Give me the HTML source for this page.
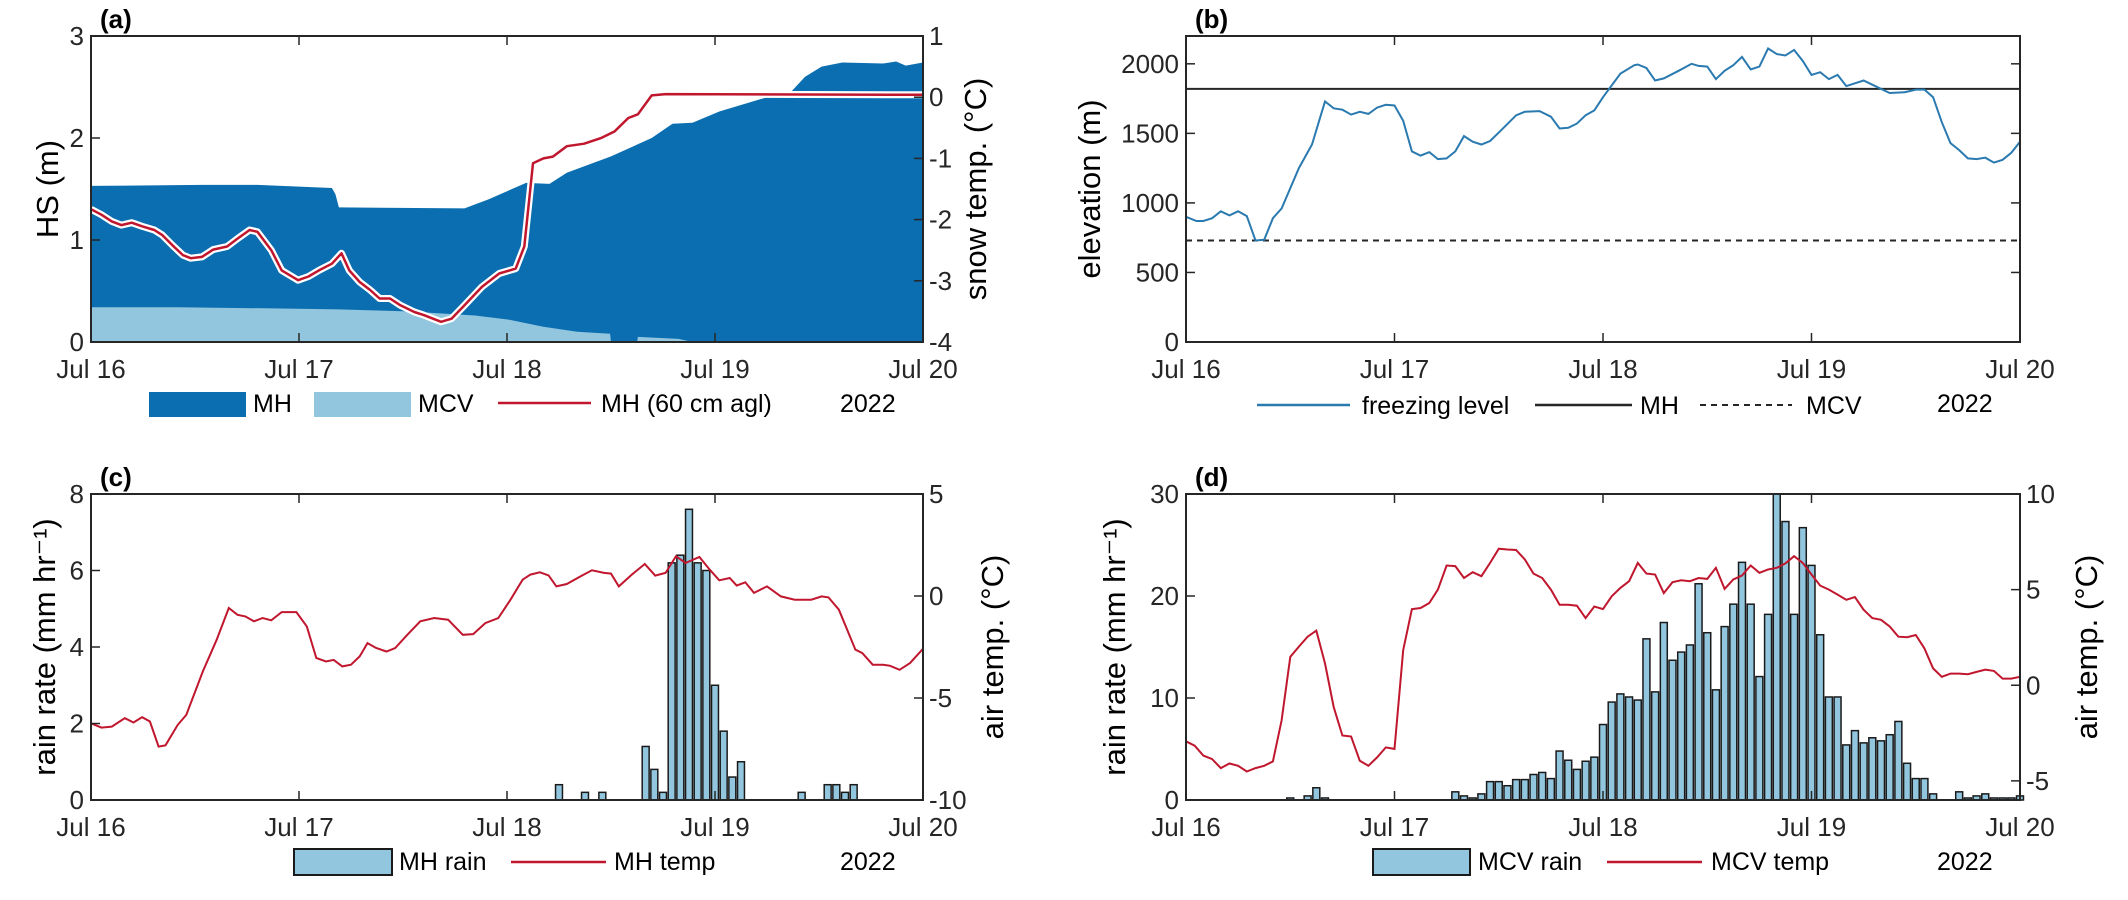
<!DOCTYPE html>
<html><head><meta charset="utf-8">
<style>
html,body{margin:0;padding:0;background:#fff;}
svg{display:block;font-family:"Liberation Sans",Arial,sans-serif;}
</style></head>
<body>
<svg id="fig" width="2128" height="900" viewBox="0 0 2128 900" xmlns="http://www.w3.org/2000/svg"></svg>
<script>
// ---------- DATA ----------
const xTickLabels = ['Jul 16','Jul 17','Jul 18','Jul 19','Jul 20'];
const xTickHours = [0,24,48,72,96];

// (a) snow depth and snow temperature
const mhHsHours = [0,12.9,19.2,27.8,28.2,28.6,43.1,45.9,50.2,52.9,54.9,60,64.7,67.1,69.4,72.5,78,80.4,82.4,84.3,86.7,91.4,92.9,94,96];
const mhHsValues = [1.53,1.54,1.54,1.51,1.45,1.32,1.31,1.4,1.56,1.55,1.66,1.82,2.0,2.14,2.15,2.26,2.4,2.42,2.6,2.7,2.74,2.73,2.75,2.71,2.74];
const mcvHsHours = [0,10,20,28.6,36.5,44.3,48.2,52.2,56.1,59.9,60,63,63.1,67.8,69.4,96];
const mcvHsValues = [0.34,0.34,0.33,0.32,0.30,0.26,0.22,0.15,0.10,0.08,0,0,0.05,0.03,0,0];
const snowTempHours = [0,1.2,2.4,3.5,4.7,5.9,7.3,8.2,9.4,10.6,11.5,12.8,14.1,15.7,16.9,18.3,19.2,20.8,22,23.9,25.1,26.3,27.8,28.9,29.8,31,32.2,33.3,34.5,35.7,37.3,38.4,40.4,41.6,43.1,45.1,47.1,49,50,51,52.2,53.3,54.9,56.9,58.8,60.4,62,63.1,64.7,66.3,96];
const snowTempValues = [-1.83,-1.92,-2.03,-2.09,-2.05,-2.11,-2.17,-2.25,-2.42,-2.58,-2.63,-2.61,-2.49,-2.44,-2.31,-2.17,-2.2,-2.5,-2.83,-2.99,-2.93,-2.83,-2.72,-2.55,-2.83,-3.02,-3.15,-3.29,-3.29,-3.4,-3.51,-3.56,-3.67,-3.62,-3.4,-3.1,-2.88,-2.8,-2.44,-1.08,-1.0,-0.97,-0.8,-0.76,-0.67,-0.56,-0.34,-0.28,0.03,0.05,0.04];

// (b) freezing level
const fzHours = [0,1.2,2,3,4,5,6,7,8,9,10,11,13,14.5,16,17,18,19,20,21,22,23,24,25,26,27,28,29,30,31,32,33,34,35,36.4,38,39,40.7,42,43,44,45,46,47,48,50,51.6,52,53,54,55,56.7,58.2,59,60,61,62,63,64,65,66,67,68,69,70,71,72,73,74,75,76,77,78,79,81,82.7,84,85,86,87,88,89,90,91,92,93,94,95,96];
const fzValues = [900,870,870,890,940,910,940,905,730,735,890,960,1250,1420,1730,1680,1670,1635,1655,1640,1685,1705,1700,1590,1370,1340,1365,1315,1320,1370,1480,1440,1420,1445,1530,1630,1655,1660,1620,1535,1540,1570,1630,1665,1760,1930,1990,1995,1970,1880,1895,1950,2000,1985,1980,1890,1950,1990,2050,1960,1980,2110,2070,2060,2100,2020,1920,1940,1890,1920,1840,1860,1880,1850,1790,1795,1815,1815,1760,1580,1430,1380,1320,1315,1325,1290,1310,1360,1440];
const mhElevation = 1820;
const mcvElevation = 730;

// (c) MH rain and temperature
const mhRainHours = [54,57,59,64,65,66,67,68,69,70,71,72,73,74,75,82,85,86,87,88];
const mhRainValues = [0.4,0.2,0.2,1.4,0.8,0.2,6.2,6.4,7.6,6.2,6.0,3.0,1.8,0.6,1.0,0.2,0.4,0.4,0.2,0.4];
const mhTempHours = [0,1.2,2.4,3.9,4.9,5.9,6.8,7.8,8.6,10,11,12.9,14.5,15.9,16.9,17.8,18.8,19.8,20.8,22,23.7,24.9,26,27.1,28,29,30,31,31.9,32.9,34.1,35.1,36.5,38,39.6,41.2,42.9,44.1,45.5,47,48.4,49.8,50.7,51.8,52.8,53.7,54.9,56.5,57.8,59.2,60,60.9,62.4,63.9,65.1,66.3,67.5,68.6,70.2,71.4,72.5,73.7,74.5,75.5,76.5,78,79.6,81.2,83.1,84.3,85.1,86.3,88.2,89,90.2,91.4,92.2,93.3,94.5,96];
const mhTempValues = [-6.24,-6.45,-6.4,-5.99,-6.2,-5.94,-6.15,-7.38,-7.32,-6.32,-5.83,-3.7,-2.14,-0.59,-0.92,-1.0,-1.24,-1.08,-1.19,-0.79,-0.79,-1.49,-3.04,-3.21,-3.13,-3.45,-3.37,-2.96,-2.31,-2.55,-2.72,-2.55,-1.9,-1.24,-1.08,-1.16,-1.9,-1.87,-1.33,-1.08,-0.18,0.8,1.05,1.16,1.01,0.47,0.59,0.97,1.26,1.13,1.1,0.47,1.05,1.57,1.0,1.13,1.95,1.62,1.91,1.29,0.77,0.88,0.51,0.67,0.15,0.47,-0.02,-0.18,-0.18,-0.02,-0.07,-0.67,-2.63,-2.8,-3.37,-3.37,-3.42,-3.62,-3.29,-2.59];

// (d) MCV rain and temperature
const mcvRainHours = [12,14,15,16,31,32,33,34,35,36,37,38,39,40,41,42,43,44,45,46,47,48,49,50,51,52,53,54,55,56,57,58,59,60,61,62,63,64,65,66,67,68,69,70,71,72,73,74,75,76,77,78,79,80,81,82,83,84,85,86,89,90,91,92,93,94,95,96];
const mcvRainValues = [0.2,0.4,1.2,0.2,0.8,0.4,0.2,0.6,1.8,1.8,1.4,2.0,2.0,2.5,2.7,2.1,4.8,3.9,3.0,3.8,4.2,7.4,9.6,10.4,10.1,9.8,15.8,10.6,17.4,13.7,14.5,15.2,21.2,16.4,10.8,17.0,19.2,23.3,19.2,12.1,18.2,30,27.3,18.2,26.7,23.0,16.2,10.1,10.1,5.4,6.8,5.6,6.1,5.8,6.4,7.7,3.6,2.1,2.1,0.6,0.8,0.2,0.4,0.6,0.2,0.2,0.2,0.4];
const mcvTempValues = [-2.93,-3.16,-3.68,-3.86,-4.33,-4.09,-4.21,-4.51,-4.33,-4.21,-3.98,-1.84,1.49,2.02,2.54,2.86,1.14,-1.14,-2.63,-2.68,-3.95,-4.21,-3.77,-3.25,-3.33,1.84,3.98,4.04,4.3,5.0,6.26,6.23,5.61,5.91,5.7,6.4,7.14,7.1,7.07,6.58,5.84,5.61,5.0,4.21,4.21,4.16,3.51,4.12,3.98,4.65,5.09,5.44,6.4,5.84,5.79,4.82,5.39,5.49,5.44,5.61,5.56,6.14,5.04,5.53,5.74,6.26,5.88,6.05,6.14,6.37,6.75,6.4,5.79,5.21,5.0,4.74,4.47,4.61,3.95,3.51,3.42,3.07,2.54,2.51,2.63,1.93,0.88,0.44,0.61,0.61,0.58,0.7,0.82,0.75,0.35,0.35,0.44];

// ---------- DRAWING ----------
const NS='http://www.w3.org/2000/svg';
const svg=document.getElementById('fig');
function mk(tag,attrs,name,parent){
  const e=document.createElementNS(NS,tag);
  for(const k in attrs) e.setAttribute(k,attrs[k]);
  
  
  (parent||svg).appendChild(e);
  return e;
}
function txt(s,attrs,name,parent){const e=mk('text',attrs,name,parent);e.textContent=s;return e;}
const FS=26, LFS=31, GFS=25;
function scale(d0,d1,r0,r1){return v=>r0+(v-d0)/(d1-d0)*(r1-r0);}

function panel(cfg){
  const g=mk('g',{},'panel-'+cfg.id);
  const x=scale(0,96,cfg.L,cfg.R);
  const yl=scale(cfg.yl[0],cfg.yl[1],cfg.B,cfg.T);
  const yr=cfg.yr?scale(cfg.yr[0],cfg.yr[1],cfg.B,cfg.T):null;
  return {g,x,yl,yr,cfg};
}
function axes(p){
  const c=p.cfg,g=p.g;
  mk('rect',{x:c.L,y:c.T,width:c.R-c.L,height:c.B-c.T,fill:'none',stroke:'#262626','stroke-width':2},'plot-box',g);
  xTickHours.forEach((h,i)=>{
    const X=p.x(h);
    mk('line',{x1:X,x2:X,y1:c.B,y2:c.B-9,stroke:'#262626','stroke-width':1.5},'x-tick',g);
    mk('line',{x1:X,x2:X,y1:c.T,y2:c.T+9,stroke:'#262626','stroke-width':1.5},'x-tick-top',g);
    txt(xTickLabels[i],{x:X,y:c.B+36,'font-size':FS,'text-anchor':'middle',fill:'#262626'},'x-tick-label',g);
  });
  c.ylTicks.forEach(v=>{
    const Y=p.yl(v);
    mk('line',{x1:c.L,x2:c.L+9,y1:Y,y2:Y,stroke:'#262626','stroke-width':1.5},'y-tick',g);
    if(!p.yr) mk('line',{x1:c.R,x2:c.R-9,y1:Y,y2:Y,stroke:'#262626','stroke-width':1.5},'y-tick-right',g);
    txt(String(v),{x:c.L-7,y:Y+9,'font-size':FS,'text-anchor':'end',fill:'#262626'},'y-tick-label',g);
  });
  if(p.yr) c.yrTicks.forEach(v=>{
    const Y=p.yr(v);
    mk('line',{x1:c.R,x2:c.R-9,y1:Y,y2:Y,stroke:'#262626','stroke-width':1.5},'y2-tick',g);
    txt(String(v),{x:c.R+6,y:Y+9,'font-size':FS,'text-anchor':'start',fill:'#262626'},'y2-tick-label',g);
  });
  txt(c.letter,{x:c.L+9,y:c.T-8,'font-size':26,'font-weight':'bold',fill:'#000'},'panel-label',g);
  const mid=(c.T+c.B)/2;
  txt(c.ylabel,{x:0,y:0,'font-size':LFS,'text-anchor':'middle',fill:'#000',transform:`translate(${c.ylx},${mid}) rotate(-90)`},'y-axis-title',g);
  if(c.yrlabel) txt(c.yrlabel,{x:0,y:0,'font-size':LFS,'text-anchor':'middle',fill:'#000',transform:`translate(${c.yrx},${mid}) rotate(-90)`},'y2-axis-title',g);
  txt('2022',{x:c.R-83,y:c.B+70,'font-size':GFS,fill:'#000'},'year-label',g);
}
function lineD(xs,ys,fx,fy){return xs.map((h,i)=>(i?'L':'M')+fx(h).toFixed(1)+','+fy(ys[i]).toFixed(1)).join('');}
function areaD(xs,ys,fx,fy,y0){return 'M'+fx(xs[0])+','+y0+lineD(xs,ys,fx,fy).replace(/^M/,'L')+'L'+fx(xs[xs.length-1])+','+y0+'Z';}
function bars(p,hrs,vals,name){
  const w=(p.x(1)-p.x(0))*0.8;
  hrs.forEach((h,i)=>{
    const X=p.x(h),Y=p.yl(vals[i]);
    mk('rect',{x:X-w/2,y:Y,width:w,height:p.cfg.B-Y,fill:'#92c5de',stroke:'#1a1a1a','stroke-width':1.5},name,p.g);
  });
}

const RED='#c0172e', BLUE='#0a6eb0', LIGHT='#92c5de';

// Panel A
const A=panel({id:'a',L:91,R:923,T:36,B:342,yl:[0,3],yr:[-4,1],ylTicks:[0,1,2,3],yrTicks:[-4,-3,-2,-1,0,1],letter:'(a)',ylabel:'HS (m)',ylx:58,yrlabel:'snow temp. (°C)',yrx:986});
mk('path',{d:areaD(mhHsHours,mhHsValues,A.x,A.yl,342),fill:BLUE},'mh-snow-depth-area',A.g);
mk('path',{d:areaD(mcvHsHours,mcvHsValues,A.x,A.yl,342),fill:LIGHT},'mcv-snow-depth-area',A.g);
mk('path',{d:lineD(snowTempHours,snowTempValues,A.x,A.yr),fill:'none',stroke:'#fff','stroke-width':7,'stroke-linejoin':'round'},'snow-temp-halo',A.g);
mk('path',{d:lineD(snowTempHours,snowTempValues,A.x,A.yr),fill:'none',stroke:RED,'stroke-width':2.5,'stroke-linejoin':'round'},'mh-snow-temp-line',A.g);
axes(A);
mk('rect',{x:149,y:392,width:97,height:25,fill:BLUE},'legend-mh-swatch',A.g);
txt('MH',{x:253,y:412,'font-size':GFS},'legend-mh-label',A.g);
mk('rect',{x:314,y:392,width:97,height:25,fill:LIGHT},'legend-mcv-swatch',A.g);
txt('MCV',{x:418,y:412,'font-size':GFS},'legend-mcv-label',A.g);
mk('line',{x1:498,x2:591,y1:403,y2:403,stroke:RED,'stroke-width':2.5},'legend-temp-swatch',A.g);
txt('MH (60 cm agl)',{x:601,y:412,'font-size':GFS},'legend-temp-label',A.g);

// Panel B
const B=panel({id:'b',L:1186,R:2020,T:36,B:342,yl:[0,2200],ylTicks:[0,500,1000,1500,2000],letter:'(b)',ylabel:'elevation (m)',ylx:1100});
mk('line',{x1:1186,x2:2020,y1:B.yl(mhElevation),y2:B.yl(mhElevation),stroke:'#262626','stroke-width':2},'mh-elevation-line',B.g);
mk('line',{x1:1186,x2:2020,y1:B.yl(mcvElevation),y2:B.yl(mcvElevation),stroke:'#262626','stroke-width':2,'stroke-dasharray':'6,5'},'mcv-elevation-line',B.g);
mk('path',{d:lineD(fzHours,fzValues,B.x,B.yl),fill:'none',stroke:'#2a7ab0','stroke-width':2},'freezing-level-line',B.g);
axes(B);
mk('line',{x1:1257,x2:1350,y1:405,y2:405,stroke:'#2a7ab0','stroke-width':2.5},'legend-freezing-swatch',B.g);
txt('freezing level',{x:1362,y:414,'font-size':GFS},'legend-freezing-label',B.g);
mk('line',{x1:1535,x2:1632,y1:405,y2:405,stroke:'#262626','stroke-width':2.5},'legend-mh-swatch',B.g);
txt('MH',{x:1640,y:414,'font-size':GFS},'legend-mh-label',B.g);
mk('line',{x1:1700,x2:1792,y1:405,y2:405,stroke:'#262626','stroke-width':2,'stroke-dasharray':'6,5'},'legend-mcv-swatch',B.g);
txt('MCV',{x:1806,y:414,'font-size':GFS},'legend-mcv-label',B.g);

// Panel C
const C=panel({id:'c',L:91,R:923,T:494,B:800,yl:[0,8],yr:[-10,5],ylTicks:[0,2,4,6,8],yrTicks:[-10,-5,0,5],letter:'(c)',ylabel:'rain rate (mm hr⁻¹)',ylx:55,yrlabel:'air temp. (°C)',yrx:1003});
bars(C,mhRainHours,mhRainValues,'mh-rain-bar');
mk('path',{d:lineD(mhTempHours,mhTempValues,C.x,C.yr),fill:'none',stroke:RED,'stroke-width':2},'mh-air-temp-line',C.g);
axes(C);
mk('rect',{x:294,y:849,width:98,height:26,fill:LIGHT,stroke:'#1a1a1a','stroke-width':2},'legend-rain-swatch',C.g);
txt('MH rain',{x:399,y:870,'font-size':GFS},'legend-rain-label',C.g);
mk('line',{x1:511,x2:606,y1:862,y2:862,stroke:RED,'stroke-width':2.5},'legend-temp-swatch',C.g);
txt('MH temp',{x:614,y:870,'font-size':GFS},'legend-temp-label',C.g);

// Panel D
const D=panel({id:'d',L:1186,R:2020,T:494,B:800,yl:[0,30],yr:[-6,10],ylTicks:[0,10,20,30],yrTicks:[-5,0,5,10],letter:'(d)',ylabel:'rain rate (mm hr⁻¹)',ylx:1125,yrlabel:'air temp. (°C)',yrx:2097});
bars(D,mcvRainHours,mcvRainValues,'mcv-rain-bar');
mk('path',{d:lineD(mcvTempValues.map((v,i)=>i),mcvTempValues,D.x,D.yr),fill:'none',stroke:RED,'stroke-width':2},'mcv-air-temp-line',D.g);
axes(D);
mk('rect',{x:1373,y:849,width:97,height:26,fill:LIGHT,stroke:'#1a1a1a','stroke-width':2},'legend-rain-swatch',D.g);
txt('MCV rain',{x:1478,y:870,'font-size':GFS},'legend-rain-label',D.g);
mk('line',{x1:1607,x2:1702,y1:862,y2:862,stroke:RED,'stroke-width':2.5},'legend-temp-swatch',D.g);
txt('MCV temp',{x:1711,y:870,'font-size':GFS},'legend-temp-label',D.g);
</script>
</body></html>
